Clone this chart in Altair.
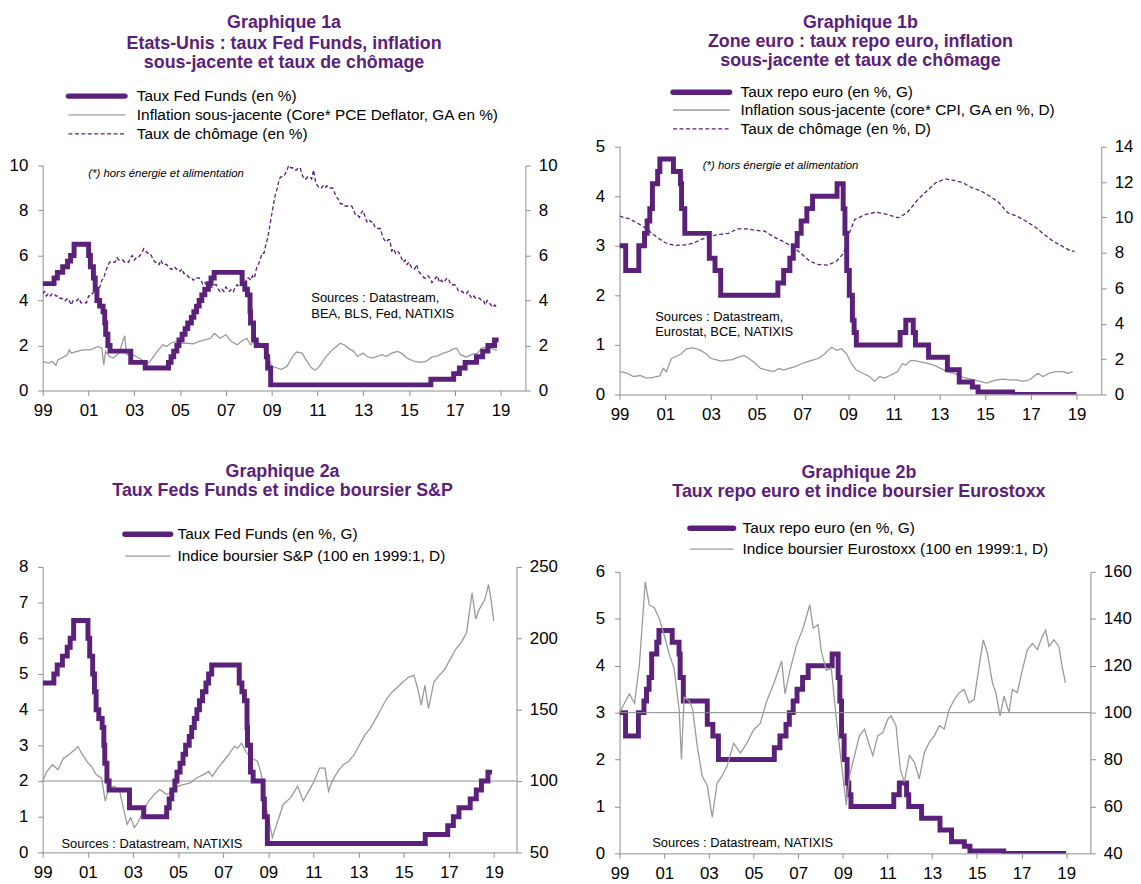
import altair as alt
import pandas as pd

PURPLE = "#5b2079"
GRAY = "#9a9a9a"
AXISC = "#8c8c8c"
FONT = "Liberation Sans"

# ---------------- data ----------------
ff_dates = ["1999-01-01","1999-07-01","1999-08-24","1999-11-16","2000-02-02","2000-03-21","2000-05-16",
            "2001-01-03","2001-01-31","2001-03-20","2001-04-18","2001-05-15","2001-06-27","2001-08-21",
            "2001-09-17","2001-10-02","2001-11-06","2001-12-11","2002-11-06","2003-06-25","2004-06-30",
            "2004-08-10","2004-09-21","2004-11-10","2004-12-14","2005-02-02","2005-03-22","2005-05-03",
            "2005-06-30","2005-08-09","2005-09-20","2005-11-01","2005-12-13","2006-01-31","2006-03-28",
            "2006-05-10","2006-06-29","2007-09-18","2007-10-31","2007-12-11","2008-01-22","2008-01-30",
            "2008-03-18","2008-04-30","2008-10-08","2008-10-29","2008-12-16","2015-12-16","2016-12-14",
            "2017-03-15","2017-06-14","2017-12-13","2018-03-21","2018-06-13","2018-09-26","2018-12-01"]
ff_values = [4.75,5.00,5.25,5.50,5.75,6.00,6.50,6.00,5.50,5.00,4.50,4.00,3.75,3.50,3.00,2.50,2.00,1.75,
             1.25,1.00,1.25,1.50,1.75,2.00,2.25,2.50,2.75,3.00,3.25,3.50,3.75,4.00,4.25,4.50,4.75,5.00,
             5.25,4.75,4.50,4.25,3.50,3.00,2.25,2.00,1.50,1.00,0.25,0.50,0.75,1.00,1.25,1.50,1.75,2.00,
             2.25,2.25]

repo_dates = ["1999-01-01","1999-04-09","1999-11-05","2000-02-04","2000-03-17","2000-04-28","2000-06-09",
              "2000-09-01","2000-10-06","2001-05-11","2001-08-31","2001-09-18","2001-11-09","2002-12-06",
              "2003-03-07","2003-06-06","2005-12-06","2006-03-08","2006-06-15","2006-08-09","2006-10-11",
              "2006-12-13","2007-03-14","2007-06-13","2008-07-09","2008-10-15","2008-11-12","2008-12-10",
              "2009-01-21","2009-03-11","2009-04-08","2009-05-13","2011-04-13","2011-07-13","2011-11-09",
              "2011-12-14","2012-07-11","2013-05-08","2013-11-13","2014-06-11","2014-09-10","2016-03-16",
              "2018-12-31"]
repo_values = [3.00,2.50,3.00,3.25,3.50,3.75,4.25,4.50,4.75,4.50,4.25,3.75,3.25,2.75,2.50,2.00,2.25,2.50,
               2.75,3.00,3.25,3.50,3.75,4.00,4.25,3.75,3.25,2.50,2.00,1.50,1.25,1.00,1.25,1.50,1.25,1.00,
               0.75,0.50,0.25,0.15,0.05,0.00,0.00]

us_core_dates = ["1999-01","1999-04","1999-06","1999-08","1999-09","1999-11","2000-02","2000-03","2000-04",
                 "2000-07","2000-10","2001-02","2001-06","2001-08","2001-09","2001-10","2001-12","2002-02",
                 "2002-05","2002-08","2002-09","2002-12","2003-02","2003-05","2003-08","2003-10","2004-01",
                 "2004-04","2004-06","2004-08","2004-11","2005-02","2005-05","2005-08","2005-11","2006-02",
                 "2006-05","2006-07","2006-10","2007-01","2007-04","2007-07","2007-09","2007-12","2008-02",
                 "2008-04","2008-07","2008-09","2008-11","2009-01","2009-04","2009-06","2009-09","2009-12",
                 "2010-02","2010-05","2010-07","2010-10","2010-12","2011-02","2011-05","2011-08","2011-10",
                 "2012-01","2012-03","2012-06","2012-08","2012-10","2013-01","2013-03","2013-06","2013-08",
                 "2013-11","2014-01","2014-04","2014-07","2014-09","2014-12","2015-04","2015-07","2015-10",
                 "2016-01","2016-04","2016-07","2016-10","2016-12","2017-02","2017-04","2017-07","2017-10",
                 "2018-01","2018-03","2018-06","2018-08","2018-11"]
us_core_values = [1.29,1.22,1.29,1.12,1.37,1.44,1.59,1.81,1.66,1.74,1.81,1.81,1.96,1.88,1.15,1.74,1.51,
                  1.44,1.66,2.43,1.59,1.59,1.51,1.37,1.19,1.37,1.74,2.03,1.96,2.10,2.18,2.10,2.10,2.07,
                  2.18,2.25,2.32,2.54,2.32,2.47,2.18,2.03,2.18,2.32,2.03,2.18,2.10,1.88,1.51,1.07,1.00,
                  0.93,1.07,1.51,1.71,1.66,1.37,1.00,0.90,1.07,1.44,1.74,1.88,2.10,2.03,1.84,1.74,1.51,
                  1.66,1.51,1.44,1.51,1.59,1.51,1.66,1.74,1.66,1.44,1.29,1.25,1.29,1.49,1.54,1.66,1.74,
                  1.84,1.88,1.59,1.49,1.59,1.66,1.88,1.96,1.88,1.78]

us_unemp_start = "1999-01-01"   # monthly values
us_unemp_values = [4.3,4.4,4.2,4.3,4.2,4.3,4.3,4.2,4.2,4.1,4.1,4.0,
                   4.0,4.1,4.0,3.8,4.0,4.0,4.0,4.1,3.9,3.9,3.9,3.9,
                   4.2,4.2,4.3,4.4,4.3,4.5,4.6,4.9,5.0,5.3,5.5,5.7,
                   5.7,5.7,5.7,5.9,5.8,5.8,5.8,5.7,5.7,5.7,5.9,6.0,
                   5.8,5.9,5.9,6.0,6.1,6.3,6.2,6.1,6.1,6.0,5.8,5.7,
                   5.7,5.6,5.8,5.6,5.6,5.6,5.5,5.4,5.4,5.5,5.4,5.4,
                   5.3,5.4,5.2,5.2,5.1,5.0,5.0,4.9,5.0,5.0,5.0,4.9,
                   4.7,4.8,4.7,4.7,4.6,4.6,4.7,4.7,4.5,4.4,4.5,4.4,
                   4.6,4.5,4.4,4.5,4.4,4.6,4.7,4.6,4.7,4.7,4.7,5.0,
                   5.0,4.9,5.1,5.0,5.4,5.6,5.8,6.1,6.1,6.5,6.8,7.3,
                   7.8,8.3,8.7,9.0,9.4,9.5,9.5,9.6,9.8,10.0,9.9,9.9,
                   9.8,9.8,9.9,9.9,9.6,9.4,9.4,9.5,9.5,9.4,9.8,9.3,
                   9.1,9.0,9.0,9.1,9.0,9.1,9.0,9.0,9.0,8.8,8.6,8.5,
                   8.3,8.3,8.2,8.2,8.2,8.2,8.2,8.0,7.8,7.8,7.7,7.9,
                   8.0,7.7,7.5,7.6,7.5,7.5,7.3,7.2,7.2,7.2,6.9,6.7,
                   6.6,6.7,6.7,6.2,6.3,6.1,6.2,6.1,5.9,5.7,5.8,5.6,
                   5.7,5.5,5.4,5.4,5.6,5.3,5.2,5.1,5.0,5.0,5.1,5.0,
                   4.8,4.9,5.0,5.1,4.8,4.9,4.8,4.9,5.0,4.9,4.7,4.7,
                   4.7,4.6,4.4,4.4,4.4,4.3,4.3,4.4,4.2,4.1,4.2,4.1,
                   4.1,4.1,4.0,4.0,3.8,4.0,3.9,3.8,3.7,3.8,3.7]

ez_core_years = [1999.03,1999.32,1999.61,1999.9,2000.18,2000.47,2000.76,2000.91,2001.05,2001.27,
                 2001.49,2001.7,2001.92,2002.21,2002.5,2002.79,2003.0,2003.22,2003.44,2003.65,
                 2003.94,2004.23,2004.45,2004.66,2004.95,2005.17,2005.46,2005.75,2005.97,2006.18,
                 2006.4,2006.69,2006.98,2007.19,2007.41,2007.7,2007.99,2008.13,2008.28,2008.49,
                 2008.71,2008.93,2009.14,2009.36,2009.65,2009.94,2010.16,2010.37,2010.59,2010.88,
                 2011.17,2011.38,2011.53,2011.75,2011.96,2012.18,2012.47,2012.76,2013.05,2013.34,
                 2013.62,2013.91,2014.2,2014.49,2014.78,2015.07,2015.29,2015.5,2015.79,2016.08,
                 2016.37,2016.66,2016.95,2017.31,2017.53,2017.82,2018.1,2018.39,2018.61,2018.83]
ez_core_values = [1.29,1.2,1.01,1.07,0.92,0.96,1.05,1.47,1.29,2.03,
                  2.16,2.3,2.58,2.63,2.52,2.30,2.03,1.97,1.88,1.93,
                  1.97,2.12,2.21,2.03,1.75,1.47,1.38,1.29,1.47,1.38,
                  1.47,1.57,1.75,1.84,1.93,2.03,2.30,2.49,2.67,2.49,
                  2.58,2.30,1.75,1.38,1.2,1.01,0.74,1.01,0.92,1.10,
                  1.29,1.75,1.66,1.93,1.90,1.84,1.75,1.66,1.47,1.29,
                  1.2,1.01,0.92,0.83,0.74,0.64,0.74,0.83,0.87,0.83,
                  0.83,0.74,0.83,1.2,1.01,1.2,1.29,1.29,1.2,1.29]

ez_unemp_years = [1999.0,1999.43,1999.82,2000.22,2000.61,2001.0,2001.4,2001.79,2002.19,2002.58,
                  2002.98,2003.37,2003.77,2004.16,2004.56,2004.95,2005.35,2005.74,2006.13,2006.53,
                  2006.92,2007.32,2007.71,2008.11,2008.5,2008.82,2009.06,2009.29,2009.77,2010.24,
                  2010.71,2011.19,2011.58,2012.05,2012.45,2012.84,2013.24,2013.63,2014.03,2014.42,
                  2014.82,2015.21,2015.61,2016.0,2016.4,2016.79,2017.18,2017.58,2017.97,2018.37,
                  2018.76,2018.92]
ez_unemp_values = [10.07,9.92,9.66,9.32,8.9,8.57,8.42,8.44,8.53,8.76,
                   8.95,9.04,9.1,9.36,9.36,9.27,9.23,8.9,8.66,8.38,
                   8.0,7.53,7.34,7.31,7.53,8.0,9.13,9.89,10.17,10.3,
                   10.17,9.98,10.26,11.0,11.5,11.96,12.18,12.1,11.96,11.68,
                   11.5,11.2,10.83,10.26,10.07,9.79,9.47,9.04,8.66,8.38,
                   8.1,8.1]

sp_years = [1999.0,1999.19,1999.43,1999.68,1999.92,2000.16,2000.4,2000.56,2000.72,2000.96,
            2001.21,2001.37,2001.61,2001.77,2001.93,2002.17,2002.41,2002.57,2002.74,2002.9,
            2003.06,2003.22,2003.46,2003.7,2003.94,2004.19,2004.51,2004.75,2004.99,2005.23,
            2005.55,2005.8,2006.12,2006.36,2006.52,2006.76,2007.0,2007.24,2007.49,2007.65,
            2007.81,2008.05,2008.29,2008.53,2008.69,2008.86,2009.02,2009.18,2009.42,2009.66,
            2009.98,2010.3,2010.55,2010.79,2011.03,2011.27,2011.51,2011.67,2011.83,2012.08,
            2012.32,2012.56,2012.8,2013.04,2013.28,2013.52,2013.77,2014.01,2014.25,2014.49,
            2014.73,2014.97,2015.22,2015.46,2015.62,2015.78,2015.94,2016.1,2016.34,2016.58,
            2016.83,2017.07,2017.31,2017.55,2017.79,2018.03,2018.19,2018.35,2018.6,2018.76,
            2018.87,2018.99]
sp_values = [100,106.8,111.4,108,116,118.4,121.8,124.2,119.5,113.7,
             109,104.5,102,86,95,96.3,92.9,81.3,69.7,74.3,
             67.4,70.9,79,86,90.6,94,90.6,92.9,96.3,97.5,
             98.7,102,104.5,106.8,103.3,109,113.7,118.4,124.2,123,
             126.5,119.5,116,113.7,104.5,83.6,73.2,60.4,72,83.6,
             88.2,96.3,86,92.9,99.8,109,109,92.9,99.8,106.8,
             111.4,113.7,118.4,125.3,132.3,136.9,143.9,150.8,157.8,162.4,
             165.9,169.4,172.8,174,164.7,153.1,167,150.8,169.4,174,
             178.6,185.6,192.5,197.2,204.1,231.9,213.4,220.3,227.3,237.7,
             227.3,212.2]

stoxx_years = [1999.0,1999.22,1999.44,1999.67,1999.89,2000.15,2000.33,2000.56,2000.78,2001.0,
               2001.22,2001.44,2001.67,2001.77,2001.89,2002.11,2002.26,2002.48,2002.7,2002.93,
               2003.15,2003.37,2003.59,2003.81,2004.11,2004.41,2004.7,2005.0,2005.3,2005.59,
               2005.89,2006.26,2006.41,2006.63,2006.93,2007.22,2007.52,2007.67,2007.89,2008.04,
               2008.26,2008.48,2008.7,2008.93,2009.15,2009.3,2009.52,2009.74,2009.97,2010.19,
               2010.34,2010.56,2010.79,2011.01,2011.16,2011.38,2011.57,2011.75,2011.98,2012.2,
               2012.42,2012.65,2012.87,2013.09,2013.32,2013.54,2013.76,2013.99,2014.21,2014.43,
               2014.65,2014.88,2015.1,2015.29,2015.47,2015.7,2015.85,2016.04,2016.22,2016.44,
               2016.59,2016.81,2017.04,2017.26,2017.49,2017.71,2017.93,2018.08,2018.23,2018.45,
               2018.67,2018.82,2018.97]
stoxx_values = [100,104,108,104,120.7,155.8,146,144.6,140,133,
                125,119,101,80,106.6,105,102,85.6,73,68.8,
                55.4,70,73,77,87,82.8,87,92.6,95.4,105,
                112,122,108,118,129,136,146,136,137.5,126,
                118,119,98,78.6,60.5,73.2,81.7,90.1,93,86,
                81.7,90.1,91.5,97.2,98.6,94.4,76,70.4,81.7,78.9,
                71.8,83.1,87.3,90.1,94.4,93,101.4,105.6,108.5,109.9,
                104.2,105.6,119.7,131,125.4,112.7,108.5,98.6,107,100,
                109.9,108.5,118.3,126.8,129.6,126.8,132.4,135.2,128.2,131,
                128.2,119.7,112.7]

index_base = [100]


# ---------------- helpers ----------------
def dec_dates(years):
    out = []
    for y in years:
        yr = int(y)
        a = pd.Timestamp(year=yr, month=1, day=1)
        b = pd.Timestamp(year=yr + 1, month=1, day=1)
        out.append(a + (b - a) * (y - yr))
    return out


ff_df = pd.DataFrame({"date": pd.to_datetime(ff_dates), "v": ff_values})
repo_df = pd.DataFrame({"date": pd.to_datetime(repo_dates), "v": repo_values})
us_core_df = pd.DataFrame({"date": pd.to_datetime(us_core_dates), "v": us_core_values})
us_unemp_df = pd.DataFrame({"date": pd.date_range(us_unemp_start, periods=len(us_unemp_values), freq="MS"),
                            "v": us_unemp_values})
ez_core_df = pd.DataFrame({"date": dec_dates(ez_core_years), "v": ez_core_values})
ez_unemp_df = pd.DataFrame({"date": dec_dates(ez_unemp_years), "v": ez_unemp_values})
sp_df = pd.DataFrame({"date": dec_dates(sp_years), "v": sp_values})
stoxx_df = pd.DataFrame({"date": dec_dates(stoxx_years), "v": stoxx_values})
base_df = pd.DataFrame({"v": index_base})
one = pd.DataFrame({"d": [0]})


def X(end):
    return alt.X(
        "date:T",
        scale=alt.Scale(domain=[alt.DateTime(year=1999, month=1, date=1),
                                alt.DateTime(year=end[0], month=end[1], date=1)], nice=False),
        axis=alt.Axis(values=[alt.DateTime(year=y, month=1, date=1) for y in range(1999, 2020, 2)],
                      format="%y", title=None, labelFlush=False, labelOverlap=False, labelPadding=7),
    )


def Y(domain, values, orient, rng=None):
    sc = dict(domain=domain, nice=False, zero=False)
    if rng is not None:
        sc["range"] = rng
    return alt.Y(
        "v:Q",
        scale=alt.Scale(**sc),
        axis=alt.Axis(values=values, orient=orient, title=None, labelOverlap=False,
                      labelPadding=10 if orient == "left" else 8),
    )


def line(df, end, ysc, color, width, dash=None, step=False):
    kw = dict(color=color, strokeWidth=width, clip=True)
    if dash:
        kw["strokeDash"] = dash
    if step:
        kw["interpolate"] = "step-after"
    return alt.Chart(df).mark_line(**kw).encode(x=X(end), y=Y(*ysc))


def ref_rule(ysc):
    return alt.Chart(base_df).mark_rule(color="#8c8c8c", strokeWidth=1).encode(y=Y(*ysc))


def txt(s, x, y, size, weight="normal", style="normal", color="black", align="left"):
    return alt.Chart(one).mark_text(
        text=s, align=align, baseline="middle", font=FONT, fontSize=size,
        fontWeight=weight, fontStyle=style, color=color,
    ).encode(x=alt.value(x), y=alt.value(y))


def leg_rule(x1, x2, y, color, width, dash=None, cap="butt"):
    kw = dict(color=color, strokeWidth=width, strokeCap=cap)
    if dash:
        kw["strokeDash"] = dash
    return alt.Chart(one).mark_rule(**kw).encode(x=alt.value(x1), x2=alt.value(x2), y=alt.value(y))


def titles(lines, cx, ys):
    return [txt(s, cx, y, 18, weight="bold", color=PURPLE, align="center") for s, y in zip(lines, ys)]


LEG = 15.5
SRC = 13
NOTE = 11.5
DASH = [4, 2.5]

# ---------------- Panel 1a ----------------
# the plot frame starts OFF px below the group's top so that it sits lower than panel 1b's
E1 = (2020, 2)
OFF = 19
W1a, H1a = 487, 227 + OFF
y10 = [0, 2, 4, 6, 8, 10]
rng1a = [H1a, OFF]
p1a = alt.layer(
    alt.layer(
        line(us_core_df, E1, ([0, 10], y10, "right", rng1a), GRAY, 1.3),
        line(us_unemp_df, E1, ([0, 10], y10, "right", rng1a), PURPLE, 1.3, dash=DASH),
    ),
    line(ff_df, E1, ([0, 10], y10, "left", rng1a), PURPLE, 5, step=True),
    *titles(["Graphique 1a", "Etats-Unis : taux Fed Funds, inflation", "sous-jacente et taux de chômage"],
            W1a / 2, [OFF - 144, OFF - 123, OFF - 103]),
    leg_rule(26, 83, OFF - 70, PURPLE, 5.5, cap="round"),
    leg_rule(26, 83, OFF - 51, GRAY, 1.3),
    leg_rule(26, 83, OFF - 32, PURPLE, 1.3, dash=DASH),
    txt("Taux Fed Funds (en %)", 95, OFF - 70, LEG),
    txt("Inflation sous-jacente (Core* PCE Deflator, GA en %)", 95, OFF - 51, LEG),
    txt("Taux de chômage (en %)", 95, OFF - 32, LEG),
    txt("(*) hors énergie et alimentation", 46, OFF + 9, NOTE, style="italic"),
    txt("Sources  : Datastream,", 271, OFF + 134, SRC),
    txt("BEA, BLS,  Fed, NATIXIS", 271, OFF + 150, SRC),
).resolve_scale(y="independent").properties(width=W1a, height=H1a)

# ---------------- Panel 1b ----------------
W1b, H1b = 486, 250
y14 = [0, 2, 4, 6, 8, 10, 12, 14]
p1b = alt.layer(
    alt.layer(
        line(ez_core_df, E1, ([0, 14], y14, "right"), GRAY, 1.3),
        line(ez_unemp_df, E1, ([0, 14], y14, "right"), PURPLE, 1.3, dash=DASH),
    ),
    line(repo_df, E1, ([0, 5], [0, 1, 2, 3, 4, 5], "left"), PURPLE, 5, step=True),
    *titles(["Graphique 1b", "Zone euro : taux repo euro, inflation", "sous-jacente et taux de chômage"],
            W1b / 2, [-125, -106, -86]),
    leg_rule(54, 111, -55, PURPLE, 5.5, cap="round"),
    leg_rule(54, 111, -37, GRAY, 1.3),
    leg_rule(54, 111, -18, PURPLE, 1.3, dash=DASH),
    txt("Taux repo euro (en %, G)", 122, -55, LEG),
    txt("Inflation sous-jacente (core* CPI, GA en %, D)", 122, -37, LEG),
    txt("Taux de chômage (en %, D)", 122, -18, LEG),
    txt("(*) hors énergie et alimentation", 84, 20, NOTE, style="italic"),
    txt("Sources  : Datastream,", 36, 172, SRC),
    txt("Eurostat,  BCE, NATIXIS", 36, 187, SRC),
).resolve_scale(y="independent").properties(width=W1b, height=H1b)

# ---------------- Panel 2a ----------------
E2a = (2020, 1)
W2a, H2a = 478, 288
sp_ticks = [50, 100, 150, 200, 250]
p2a = alt.layer(
    alt.layer(
        ref_rule(([50, 250], sp_ticks, "right")),
        line(sp_df, E2a, ([50, 250], sp_ticks, "right"), GRAY, 1.3),
    ),
    line(ff_df, E2a, ([0, 8], list(range(0, 9)), "left"), PURPLE, 5, step=True),
    *titles(["Graphique 2a", "Taux Feds Funds et indice boursier S&P"], W2a / 2 + 3, [-96, -77]),
    leg_rule(83, 129, -33, PURPLE, 5.5, cap="round"),
    leg_rule(83, 129, -11, GRAY, 1.3),
    txt("Taux Fed Funds (en %, G)", 136, -33, LEG),
    txt("Indice boursier S&P (100 en 1999:1, D)", 136, -11, LEG),
    txt("Sources  : Datastream,  NATIXIS", 19, 280, SRC),
).resolve_scale(y="independent").properties(width=W2a, height=H2a)

# ---------------- Panel 2b ----------------
E2b = (2020, 2)
W2b, H2b = 475, 284
st_ticks = [40, 60, 80, 100, 120, 140, 160]
p2b = alt.layer(
    line(repo_df, E2b, ([0, 6], list(range(0, 7)), "left"), PURPLE, 5, step=True),
    alt.layer(
        ref_rule(([40, 160], st_ticks, "right")),
        line(stoxx_df, E2b, ([40, 160], st_ticks, "right"), GRAY, 1.3),
    ),
    *titles(["Graphique 2b", "Taux repo euro et indice boursier Eurostoxx"], W2b / 2 + 4, [-100, -81]),
    leg_rule(71, 115, -44, PURPLE, 5.5, cap="round"),
    leg_rule(71, 115, -23, GRAY, 1.3),
    txt("Taux repo euro (en %, G)", 124, -44, LEG),
    txt("Indice boursier Eurostoxx (100 en 1999:1, D)", 124, -23, LEG),
    txt("Sources  : Datastream,  NATIXIS", 33, 274, SRC),
).resolve_scale(y="independent").properties(width=W2b, height=H2b)

chart = alt.hconcat(
    alt.vconcat(p1a, p2a, spacing=45),
    alt.vconcat(p1b, p2b, spacing=42),
    spacing=37,
).properties(
    padding={"left": 1, "top": 2, "right": 0, "bottom": 0}
).configure_axis(
    domainColor=AXISC, tickColor=AXISC, tickSize=5, tickWidth=1, domainWidth=1,
    labelFont=FONT, labelFontSize=17, labelColor="black", grid=False,
).configure_view(stroke=None)

chart.save("out.html", embed_options={"renderer": "svg", "actions": False})
